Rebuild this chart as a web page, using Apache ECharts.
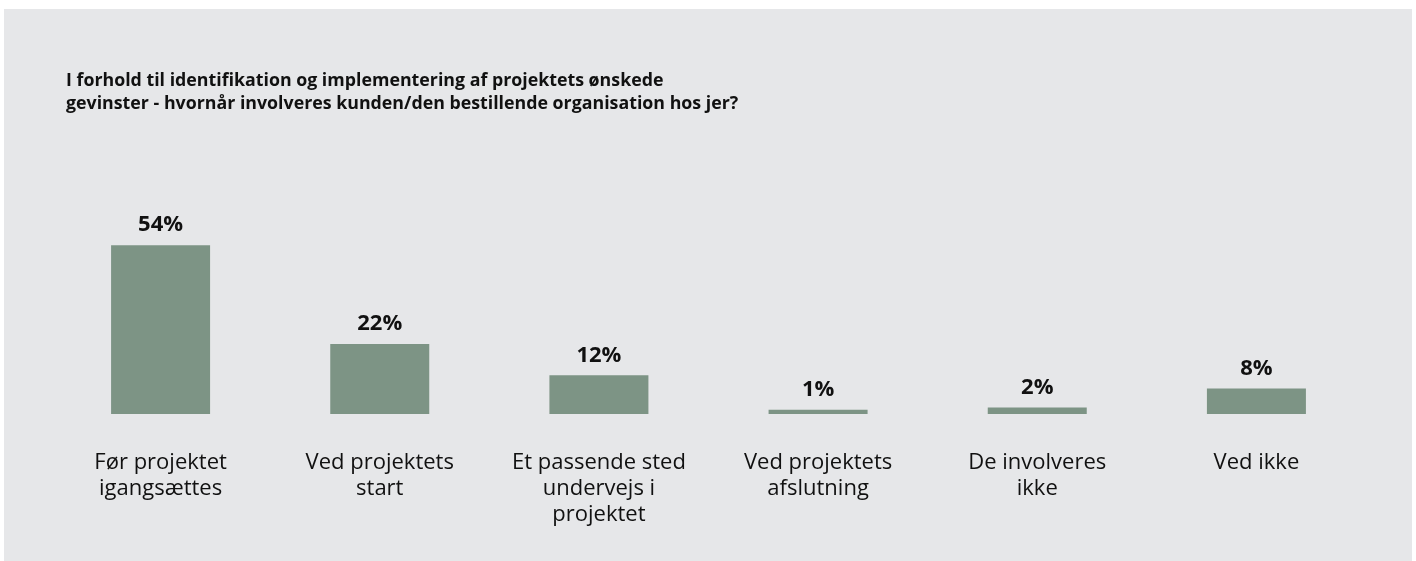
<!DOCTYPE html>
<html>
<head>
<meta charset="utf-8">
<script src="https://cdn.jsdelivr.net/npm/echarts@6/dist/echarts.min.js"></script>
<style>
  html, body { margin: 0; padding: 0; background: #fff; }
  #chart { width: 1416px; height: 561px; }
</style>
</head>
<body>
<div id="chart"></div>
<script>
const categories = [
  'Før projektet\nigangsættes',
  'Ved projektets\nstart',
  'Et passende sted\nundervejs i\nprojektet',
  'Ved projektets\nafslutning',
  'De involveres\nikke',
  'Ved ikke'
]
const shares = [54.1, 22.4, 12.4, 1.4, 2.1, 8.2]

const titleText = 'I forhold til identifikation og implementering af projektets ønskede\n' +
  'gevinster - hvornår involveres kunden/den bestillende organisation hos jer?'

const chart = echarts.init(document.getElementById('chart'))
const option = {
  backgroundColor: '#ffffff',
  animation: false,
  textStyle: { fontFamily: 'Open Sans' },
  graphic: [
    {
      type: 'rect',
      z: -10,
      shape: { x: 4, y: 9, width: 1408, height: 552 },
      style: { fill: '#e6e7e9' }
    }
  ],
  title: {
    text: titleText,
    left: 66,
    top: 69,
    padding: 0,
    textStyle: {
      fontFamily: 'Open Sans',
      fontSize: 17.8,
      fontWeight: 'bold',
      color: '#111',
      lineHeight: 23.5
    }
  },
  grid: {
    left: 51,
    right: 50,
    top: 102,
    bottom: 147,
    containLabel: false
  },
  xAxis: {
    type: 'category',
    data: categories,
    axisLine: { show: false },
    axisTick: { show: false },
    axisLabel: {
      interval: 0,
      margin: 36,
      fontFamily: 'Open Sans',
      fontSize: 22,
      lineHeight: 26,
      color: '#111',
      align: 'center'
    }
  },
  yAxis: {
    type: 'value',
    min: 0,
    max: 100,
    show: false,
    splitLine: { show: false }
  },
  series: [
    {
      type: 'bar',
      data: shares,
      barWidth: 99,
      itemStyle: { color: '#7d9485' },
      label: {
        show: true,
        position: 'top',
        distance: 9,
        fontFamily: 'Open Sans',
        fontSize: 22,
        fontWeight: 'bold',
        color: '#111',
        formatter: p => Math.round(p.value) + '%'
      }
    }
  ]
}
chart.setOption(option)
</script>
</body>
</html>
